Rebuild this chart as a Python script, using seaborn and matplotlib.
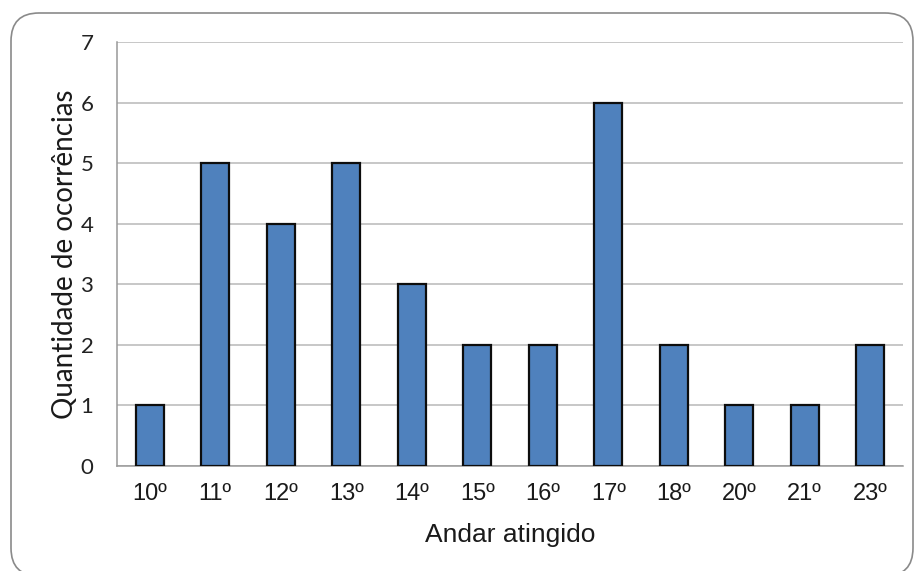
import matplotlib
matplotlib.use("Agg")
import matplotlib.pyplot as plt
from matplotlib.patches import FancyBboxPatch
import seaborn as sns
import pandas as pd

# Floors hit and number of occurrences
andares = ["10º", "11º", "12º", "13º", "14º", "15º", "16º", "17º", "18º", "20º", "21º", "23º"]
ocorrencias = [1, 5, 4, 5, 3, 2, 2, 6, 2, 1, 1, 2]
y_ticks = [0, 1, 2, 3, 4, 5, 6, 7]

df = pd.DataFrame({"andar": andares, "ocorrencias": ocorrencias})

sns.set_theme(style="white")
plt.rcParams["font.family"] = ["Liberation Sans", "DejaVu Sans"]

fig = plt.figure(figsize=(9.16, 5.71), dpi=100)
fig.patch.set_facecolor("white")

# Rounded outer frame of the chart area (in inches)
frame = FancyBboxPatch((0.11, -0.05), 9.02, 5.58 + 0.05,
                       boxstyle="round,pad=0,rounding_size=0.28",
                       transform=fig.dpi_scale_trans, facecolor="none",
                       edgecolor="#8a8a8a", linewidth=1.2, zorder=-1)
fig.patches.append(frame)

ax = fig.add_axes([117 / 916, 1 - 466 / 571, (903 - 117) / 916, (466 - 42) / 571])
ax.set_facecolor("none")

sns.barplot(data=df, x="andar", y="ocorrencias", ax=ax, color="#4F81BD",
            width=0.43, edgecolor="#0d0d0d", linewidth=1.6, saturation=1, zorder=3)

ax.set_ylim(0, 7)
ax.set_xlim(-0.5, len(andares) - 0.5)
ax.set_yticks(y_ticks)
ax.set_yticklabels([str(t) for t in y_ticks], fontfamily=["Lato", "DejaVu Sans"],
                   fontsize=16, color="#222222")
ax.yaxis.grid(True, color="#b8b8b8", linewidth=1.1, zorder=0)
ax.set_axisbelow(True)

for side in ["top", "right"]:
    ax.spines[side].set_visible(False)
for side in ["left", "bottom"]:
    ax.spines[side].set_color("#999999")
    ax.spines[side].set_linewidth(1.1)

ax.tick_params(axis="y", length=0, pad=17)
ax.tick_params(axis="x", length=0, pad=12, labelsize=17, labelcolor="#1a1a1a")

ax.set_xlabel("Andar atingido", fontsize=19, color="#1a1a1a", labelpad=13)
ax.set_ylabel("Quantidade de ocorrências", fontsize=20, color="#1a1a1a",
              fontfamily=["Lato", "DejaVu Sans"], labelpad=2)

fig.savefig("out.png", dpi=100, facecolor="white")
